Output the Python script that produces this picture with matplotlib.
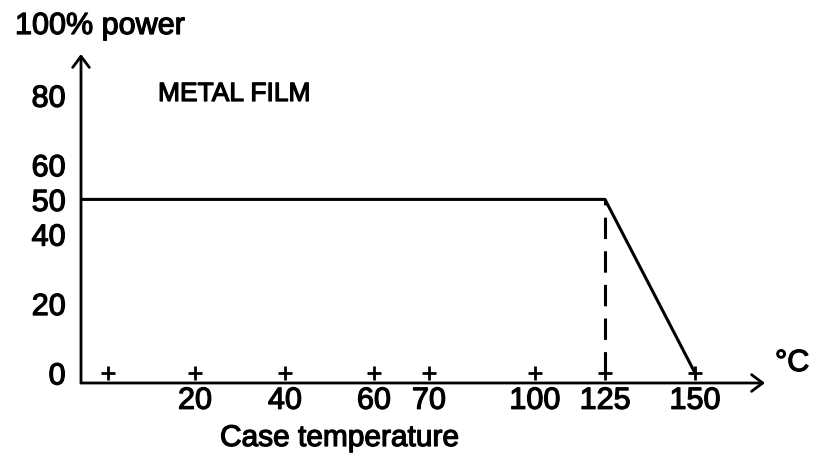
import numpy as np
import matplotlib.pyplot as plt
import matplotlib.patheffects as pe

plt.rcParams['font.family'] = ['Liberation Sans', 'DejaVu Sans']

# data
tick_temps = [20, 40, 60, 70, 100, 125, 150]
tick_labels = ['20', '40', '60', '70', '100', '125', '150']
mark_temps = [0, 20, 40, 60, 70, 100, 125, 150]
y_ticks = [0, 20, 40, 50, 60, 80]
x_axis_start = -6          # where the power axis crosses
curve_temp = [x_axis_start, 125, 150]
curve_power = [50, 50, 0]
knee_temp = 125
knee_power = 50

# the temperature axis is drawn schematic, not to scale
knot_t = np.array([-6, 0, 20, 40, 60, 70, 100, 125, 150, 170])
knot_p = np.array([81, 108, 195, 285, 374, 429, 535, 605, 695, 765])

def fwd(t):
    return np.interp(t, knot_t, knot_p)

def inv(p):
    return np.interp(p, knot_p, knot_t)

# scanned print looks heavier than plain regular
heavy = [pe.withStroke(linewidth=0.9, foreground='black')]

##
fig = plt.figure(figsize=(8.15, 4.56), dpi=100)
ax = fig.add_axes([81/815, 1-384/456, (765-81)/815, (384-55)/456])
ax.set_xscale('function', functions=(fwd, inv))
ax.set_xlim(-6, 170)
ax.set_ylim(-2.9, 91.9)

for s in ax.spines.values():
    s.set_visible(False)

arr = dict(arrowstyle='->,head_length=0.8,head_width=0.6', lw=2, color='black',
           shrinkA=0, shrinkB=0)
ax.annotate('', xy=(0, 1), xytext=(0, 0), xycoords='axes fraction', arrowprops=arr)
ax.annotate('', xy=(1, 0), xytext=(0, 0), xycoords='axes fraction', arrowprops=arr)

ax.plot(curve_temp, curve_power, color='black', lw=2.2, solid_capstyle='butt')
ax.plot([knee_temp, knee_temp], [0, knee_power], color='black', lw=2.2,
        dashes=[7, 4])
ax.plot(mark_temps, np.zeros(len(mark_temps)), ls='none', marker='+',
        ms=10, mew=2, color='black')

ax.set_xticks(tick_temps)
ax.set_xticklabels(tick_labels)
ax.set_yticks(y_ticks)
ax.tick_params(axis='x', length=0, pad=2, labelsize=22)
ax.tick_params(axis='y', length=0, pad=11, labelsize=22)
ax.minorticks_off()
for lab in ax.get_xticklabels() + ax.get_yticklabels():
    lab.set_path_effects(heavy)

fig.text(15/815, 1-35/456, '100% power', fontsize=22, va='baseline', path_effects=heavy)
fig.text(158/815, 1-102/456, 'METAL FILM', fontsize=19, va='baseline', path_effects=heavy)
fig.text(775/815, 1-372/456, '°C', fontsize=22, va='baseline', path_effects=heavy)
fig.text(220/815, 1-447/456, 'Case temperature', fontsize=21.5, va='baseline',
         path_effects=heavy)

fig.savefig('out.png', dpi=100)
